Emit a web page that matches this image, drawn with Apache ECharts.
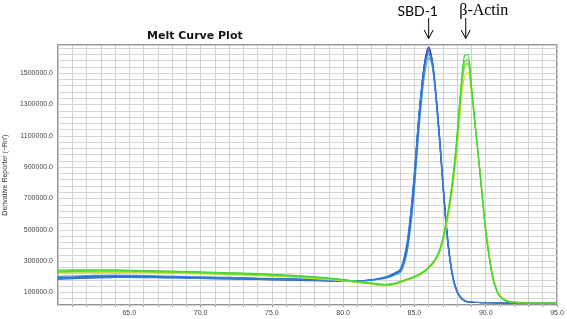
<!DOCTYPE html>
<html><head><meta charset="utf-8">
<script src="https://cdn.jsdelivr.net/npm/echarts@6/dist/echarts.min.js"></script>
<style>html,body{margin:0;padding:0;background:#fff}#c{width:567px;height:319px}</style>
</head><body><div id="c"></div>
<script>
// Temperature (°C) sample points
const temps = [60,61,62,63,64,65,66,67,68,69,70,71,72,73,74,75,76,77,78,79,80,81,82,82.5,83,83.5,
  84,84.25,84.5,84.75,85,85.25,85.5,85.75,86,86.25,86.5,86.75,87,87.25,87.5,87.75,88,88.25,88.5,88.75,
  89,89.25,89.5,89.75,90,90.25,90.5,90.75,91,91.5,92,93,94,95];

// Derivative reporter values, in thousands
// SBD-1 replicates
const sbd1_a = [192,195,198,200,201,201,200,199,198,197,195,194,192,191,189,186,185,183,180,177,173,173,182,189,198,217,243,
  305,415,605,855,1160,1410,1590,1667,1580,1360,1090,785,505,300,172,102,66,48,40,37,36,36,35,35,35,35,34,34,34,34,33,33,33];
const sbd1_b = [196,198,201,204,205,204,203,201,199,198,196,194,193,191,189,187,185,183,181,178,175,174,180,187,195,212,236,
  290,385,560,795,1100,1365,1560,1640,1585,1390,1120,815,530,318,184,108,70,50,41,38,37,36,36,35,35,35,35,34,34,34,34,33,33];
const sbd1_c = [203,205,208,210,211,210,208,206,204,202,200,198,196,194,192,190,189,187,186,183,178,176,178,184,192,206,226,
  272,360,525,760,1060,1320,1515,1600,1550,1365,1100,795,515,305,176,104,67,49,41,38,37,37,36,36,36,35,35,35,35,34,34,34,34];
const sbd1_d = [188,190,193,195,196,196,195,194,193,192,191,189,188,186,185,183,181,180,178,175,172,172,181,190,200,220,248,
  315,430,625,870,1165,1400,1565,1625,1550,1340,1075,775,495,295,168,100,64,47,40,37,36,36,35,35,35,35,34,34,34,34,33,33,33];
const sbd1_e = [185,188,191,194,196,197,197,196,194,192,190,188,186,185,183,181,179,177,175,172,170,171,179,186,196,214,240,
  298,405,595,845,1150,1400,1580,1655,1575,1365,1100,795,512,305,175,104,67,48,40,37,36,36,35,35,35,35,34,34,34,34,33,33,33];

// β-Actin replicates
const actin_a = [243,244,245,245,244,242,240,238,236,234,232,229,226,223,220,216,211,206,200,192,182,170,160,154,151,156,170,
  178,186,194,203,213,226,242,262,287,320,370,450,565,700,880,1120,1400,1610,1618,1420,1185,960,722,490,320,190,115,72,43,37,34,33,33];
const actin_b = [232,234,236,237,237,236,234,232,230,228,226,223,220,217,214,211,207,202,196,189,180,168,158,151,148,153,167,
  175,183,191,200,210,223,239,259,284,317,362,440,552,688,862,1090,1370,1570,1585,1405,1175,950,718,490,322,192,118,74,44,37,34,33,33];
const actin_c = [228,230,232,233,233,232,230,228,226,224,222,219,216,213,210,207,203,198,192,185,176,165,155,148,145,150,164,
  172,180,188,197,207,220,236,256,280,312,355,430,540,668,835,1055,1330,1530,1558,1390,1170,952,725,498,330,199,122,77,46,38,35,34,33];
const actin_d = [222,224,226,227,228,227,226,224,222,220,218,216,213,210,207,203,199,195,189,182,174,163,153,146,143,148,162,
  170,177,185,194,204,217,233,252,275,305,348,420,525,650,810,1020,1285,1475,1505,1365,1170,965,745,520,348,210,128,81,48,39,35,34,33];
const actin_e = [238,240,241,242,242,240,238,236,233,231,229,226,223,220,217,213,209,204,197,190,181,171,161,154,150,155,168,
  176,184,192,201,211,224,240,260,285,318,365,444,556,692,868,1100,1385,1550,1565,1395,1172,955,720,492,322,191,117,73,44,37,34,33,33];

// drawing order: first drawn ends up underneath
const sbdSeries = [sbd1_a, sbd1_e, sbd1_c, sbd1_b, sbd1_d];
const sbdColors = ['#2236b8', '#2648c4', '#3aa2e2', '#2f6fd2', '#3c7fd0'];
const actinSeries = [actin_d, actin_c, actin_e, actin_b, actin_a];
const actinColors = ['#e2da2c', '#a8de3c', '#78e05c', '#5cd82a', '#3cd83a'];

const xMin = 60, xMax = 95, xStep = 1;
const yMin = 20000, yMax = 1680000, yStep = 40000;
const labelsAnnot = ['SBD-1', 'β-Actin'];

function pairs(arr) { return temps.map((t, i) => [t, arr[i] * 1000]); }

const series = [];
sbdSeries.forEach((s, i) => series.push({
  type: 'line', data: pairs(s), smooth: 0.3, symbol: 'none',
  lineStyle: { width: 1.2, color: sbdColors[i] }, itemStyle: { color: sbdColors[i] }
}));
actinSeries.forEach((s, i) => series.push({
  type: 'line', data: pairs(s), smooth: 0.3, symbol: 'none',
  lineStyle: { width: 1.2, color: actinColors[i] }, itemStyle: { color: actinColors[i] }
}));

const chart = echarts.init(document.getElementById('c'), null, { renderer: 'canvas' });
chart.setOption({
  animation: false,
  backgroundColor: '#ffffff',
  title: {
    text: 'Melt Curve Plot', left: 142, top: 26,
    textStyle: { fontFamily: 'DejaVu Sans', fontWeight: 'bold', fontSize: 11, color: '#111' }
  },
  grid: { left: 58, right: 10, top: 45, bottom: 14, show: true, outerBoundsMode: 'none', containLabel: false,
    borderColor: '#6f6f6f', borderWidth: 1.5, backgroundColor: 'transparent' },
  xAxis: {
    type: 'value', min: xMin, max: xMax, interval: xStep,
    axisLine: { show: false },
    axisTick: { show: true, length: 2, lineStyle: { color: '#9a9a9a' } },
    splitLine: { show: true, lineStyle: { color: '#cfcfcf', width: 1 } },
    axisLabel: {
      fontFamily: 'Liberation Sans', fontSize: 7, color: '#444', margin: 5,
      showMinLabel: false,
      formatter: v => (v % 5 === 0 && v !== xMin) ? v.toFixed(1) : ''
    }
  },
  yAxis: {
    type: 'value', min: yMin, max: yMax, interval: yStep,
    name: "Derivative Reporter (−Rn')", nameLocation: 'middle', nameGap: 47,
    nameTextStyle: { fontFamily: 'Liberation Sans', fontSize: 7, color: '#333' },
    axisLine: { show: false },
    axisTick: { show: false },
    splitLine: { show: true, lineStyle: { color: '#d6d6d6', width: 1 } },
    axisLabel: {
      fontFamily: 'Liberation Sans', fontSize: 7, color: '#444', margin: 5,
      formatter: v => ((v - 100000) % 200000 === 0 && v <= 1500000) ? v.toFixed(1) : ''
    }
  },
  series: series
});

// Annotation arrows pointing at each group's peak
function peakX(arr) { let m = 0; arr.forEach((v, i) => { if (v > arr[m]) m = i; }); return temps[m]; }
const peaks = [peakX(sbd1_a), 88.6];
const gfx = [];
peaks.forEach((p, k) => {
  const px = chart.convertToPixel({ xAxisIndex: 0 }, p);
  gfx.push({ type: 'line', shape: { x1: px, y1: 18, x2: px, y2: 38 }, style: { stroke: '#000', lineWidth: 1 } });
  gfx.push({ type: 'polyline', shape: { points: [[px - 4.5, 30], [px, 38.5], [px + 4.5, 30]] }, style: { stroke: '#000', lineWidth: 1, fill: null } });
  gfx.push({
    type: 'text', x: k === 0 ? px - 11 : px + 18, y: 11,
    style: {
      text: labelsAnnot[k], align: 'center', verticalAlign: 'middle', fill: '#000',
      font: k === 0 ? '14px Lato' : '16px "Liberation Serif"'
    }
  });
});
chart.setOption({ graphic: gfx });
</script>
</body></html>
